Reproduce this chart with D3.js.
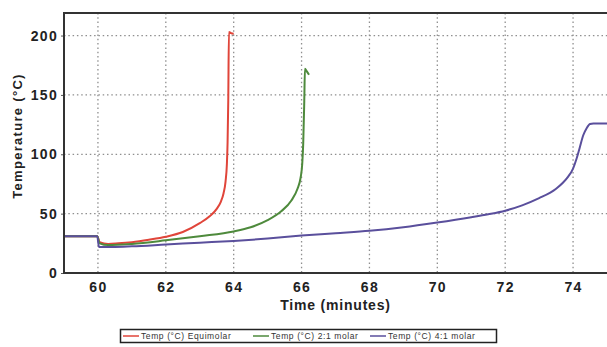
<!DOCTYPE html>
<html>
<head>
<meta charset="utf-8">
<script src="https://cdn.jsdelivr.net/npm/d3@7"></script>
<style>
  body { margin: 0; background: #fff; }
  svg { display: block; font-family: Arial, "Liberation Sans", sans-serif; }
</style>
</head>
<body>
<svg id="chart" width="607" height="347"></svg>
<script>
// (time in minutes, temperature in °C)
const equimolarTime = [59, 59.98, 60.05, 60.3, 60.6, 61, 61.5, 62, 62.5, 63, 63.3, 63.5, 63.62, 63.7, 63.76, 63.8, 63.82, 63.84, 63.86, 63.92, 64.0];
const equimolarTemp = [31, 31, 26, 24.5, 25, 26, 28, 30.5, 34.5, 42, 48, 54, 60, 67, 77, 92, 110, 145, 203, 202, 201.5];

const molar21Time = [59, 59.98, 60.05, 60.3, 61, 62, 63, 64, 64.5, 65, 65.4, 65.7, 65.88, 65.97, 66.02, 66.05, 66.08, 66.1, 66.15, 66.22];
const molar21Temp = [31, 31, 25, 23.5, 24.5, 27.5, 31, 35, 38.5, 44.5, 52, 61, 71, 80, 92, 110, 145, 172, 170, 167];

const molar41Time = [59, 59.98, 60.03, 60.5, 61, 62, 63, 64, 65, 66, 67, 68, 69, 70, 71, 71.5, 72, 72.5, 73, 73.5, 73.7, 73.85, 74, 74.1, 74.2, 74.3, 74.4, 74.5, 74.6, 75];
const molar41Temp = [31, 31, 22, 22, 22.5, 24, 25.5, 27, 29, 31.5, 33.5, 35.5, 38.5, 42.5, 47, 49.5, 52.5, 57, 63, 71, 76, 81, 88, 96, 106, 116, 122, 125.5, 126, 126];

const seriesNames = ["Temp (\u00B0C) Equimolar", "Temp (\u00B0C) 2:1 molar", "Temp (\u00B0C) 4:1 molar"];
const seriesColors = ["#e0453a", "#4e8a3c", "#5a4f9c"];

const xTicks = [60, 62, 64, 66, 68, 70, 72, 74];
const yTicks = [0, 50, 100, 150, 200];

const series = [
  {name: seriesNames[0], color: seriesColors[0], t: equimolarTime, v: equimolarTemp},
  {name: seriesNames[1], color: seriesColors[1], t: molar21Time, v: molar21Temp},
  {name: seriesNames[2], color: seriesColors[2], t: molar41Time, v: molar41Temp}
];

const plotLeft = 64, plotRight = 607, plotTop = 13, plotBottom = 273;

const svg = d3.select("#chart");

const x = d3.scaleLinear().domain([59, 75]).range([plotLeft, plotRight]);
const y = d3.scaleLinear().domain([0, 219]).range([plotBottom, plotTop]);

// Grid lines
const grid = svg.append("g")
  .attr("stroke", "#8f8f8f")
  .attr("stroke-width", 1.3)
  .attr("stroke-dasharray", "1.5,2.8");

grid.selectAll("line.vx")
  .data(xTicks)
  .enter()
  .append("line")
  .attr("x1", (d) => x(d))
  .attr("x2", (d) => x(d))
  .attr("y1", plotTop)
  .attr("y2", plotBottom);

grid.selectAll("line.hy")
  .data(yTicks.filter((d) => d > 0))
  .enter()
  .append("line")
  .attr("x1", plotLeft)
  .attr("x2", plotRight)
  .attr("y1", (d) => y(d))
  .attr("y2", (d) => y(d));

// Curves
const line = d3.line()
  .x((d) => x(d[0]))
  .y((d) => y(d[1]))
  .curve(d3.curveMonotoneX);

svg.append("g")
  .selectAll("path")
  .data(series)
  .enter()
  .append("path")
  .attr("fill", "none")
  .attr("stroke", (d) => d.color)
  .attr("stroke-width", 2)
  .attr("stroke-linejoin", "round")
  .attr("d", (d) => line(d.t.map((t, i) => [t, d.v[i]])));

// Axes
const xAxis = svg.append("g")
  .attr("transform", `translate(0,${plotBottom})`)
  .call(d3.axisBottom(x).tickValues(xTicks).tickSize(0).tickPadding(9));

const yAxis = svg.append("g")
  .attr("transform", `translate(${plotLeft},0)`)
  .call(d3.axisLeft(y).tickValues(yTicks).tickSize(3).tickPadding(3));

[xAxis, yAxis].forEach((a) => {
  a.select(".domain").remove();
  a.selectAll("line").attr("stroke", "#555");
  a.selectAll("text")
    .attr("font-size", "14px")
    .attr("font-weight", "bold")
    .attr("letter-spacing", "1.3px")
    .attr("fill", "#222");
});

// Frame
svg.append("path")
  .attr("d", `M${plotRight},${plotTop}H${plotLeft}V${plotBottom}H${plotRight}`)
  .attr("fill", "none")
  .attr("stroke", "#333")
  .attr("stroke-width", 2);

// Axis titles
svg.append("text")
  .attr("x", (plotLeft + plotRight) / 2)
  .attr("y", 310)
  .attr("text-anchor", "middle")
  .attr("font-size", "14px")
  .attr("font-weight", "bold")
  .attr("letter-spacing", "0.8px")
  .attr("fill", "#222")
  .text("Time (minutes)");

svg.append("text")
  .attr("transform", "translate(22,136) rotate(-90)")
  .attr("text-anchor", "middle")
  .attr("font-size", "13px")
  .attr("font-weight", "bold")
  .attr("letter-spacing", "1.3px")
  .attr("fill", "#222")
  .text("Temperature (\u00B0C)");

// Legend
const legend = svg.append("g");

legend.append("rect")
  .attr("x", 120.5)
  .attr("y", 329.5)
  .attr("width", 376)
  .attr("height", 13)
  .attr("fill", "#fff")
  .attr("stroke", "#222")
  .attr("stroke-width", 1.5);

const legendX = [123, 253, 370];

const items = legend.selectAll("g.item")
  .data(series)
  .enter()
  .append("g")
  .attr("transform", (d, i) => `translate(${legendX[i]},336)`);

items.append("line")
  .attr("x1", 0)
  .attr("x2", 16)
  .attr("stroke", (d) => d.color)
  .attr("stroke-width", 1.5);

items.append("text")
  .attr("x", 18)
  .attr("y", 3)
  .attr("font-size", "8.5px")
  .attr("letter-spacing", "0.6px")
  .attr("fill", "#333")
  .text((d) => d.name);
</script>
</body>
</html>
